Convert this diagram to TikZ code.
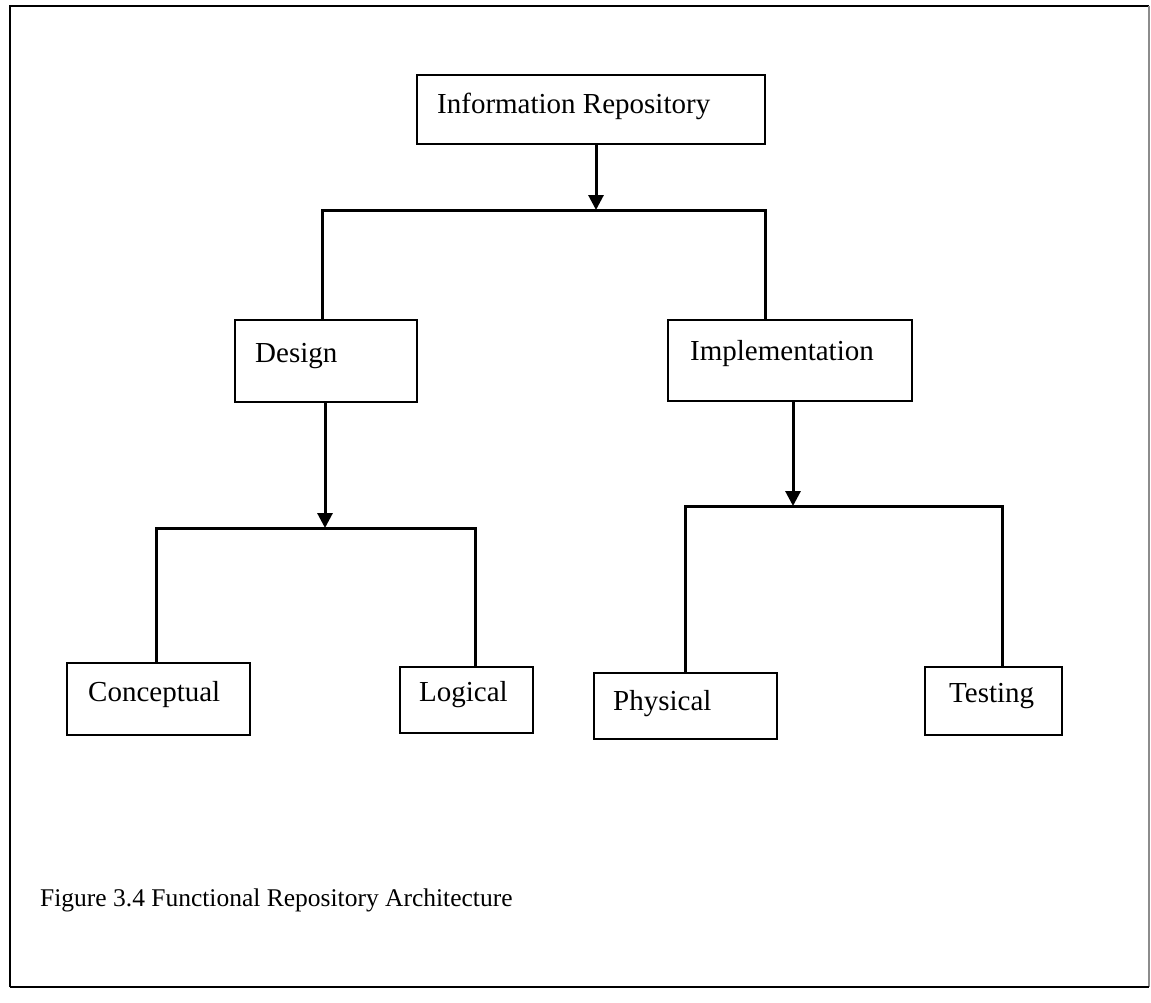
\documentclass[tikz,border=0pt]{standalone}
\usepackage{fontspec}
\setmainfont{Liberation Serif}
\usetikzlibrary{arrows.meta}
\begin{document}
\begin{tikzpicture}[x=1pt,y=-1pt,
  box/.style={draw, line width=2.6pt, rectangle, inner sep=0pt},
  lbl/.style={anchor=base west, inner sep=0pt, font=\fontsize{29}{34}\selectfont},
  wire/.style={line width=3pt},
  arr/.style={wire, -{Triangle[length=15pt,width=15pt]}}]
\useasboundingbox (0,0) rectangle (1151,1002);
% outer frame
\draw[line width=2.8pt] (10,987) -- (10,6) -- (1149,6);
\draw[line width=1.6pt, black!45] (1149,6) -- (1149,987);
\draw[line width=2.4pt] (10,987) -- (1149,987);

% boxes
\node[box, minimum width=348pt, minimum height=69pt] (ir) at (591,109.5) {};
\node[box, minimum width=182pt, minimum height=82pt] (design) at (326,361) {};
\node[box, minimum width=244pt, minimum height=81pt] (impl) at (790,360.5) {};
\node[box, minimum width=183pt, minimum height=72pt] (concept) at (158.5,699) {};
\node[box, minimum width=133pt, minimum height=66pt] (logical) at (466.5,700) {};
\node[box, minimum width=183pt, minimum height=66pt] (physical) at (685.5,706) {};
\node[box, minimum width=137pt, minimum height=68pt] (testing) at (993.5,701) {};

% labels
\node[lbl] (tir) at (437,113) {Information Repository};
\node[lbl] (tdesign) at (255,362) {Design};
\node[lbl] (timpl) at (690,360) {Implementation};
\node[lbl] (tconcept) at (88,701) {Conceptual};
\node[lbl] (tlogical) at (419,701) {Logical};
\node[lbl] (tphysical) at (613,710) {Physical};
\node[lbl] (ttesting) at (949,702) {Testing};
\node[anchor=base west, inner sep=0pt, font=\fontsize{25.5}{30}\selectfont] (caption) at (40,906)
  {Figure 3.4 Functional Repository Architecture};

% bus junctions
\coordinate (j1) at (596,210);
\coordinate (b1l) at (322,210);
\coordinate (b1r) at (765,210);
\coordinate (j2) at (325,528);
\coordinate (b2l) at (156,528);
\coordinate (b2r) at (475,528);
\coordinate (j3) at (793,506);
\coordinate (b3l) at (685,506);
\coordinate (b3r) at (1002,506);

% top level
\draw[arr] (ir.south -| j1) -- (j1);
\draw[wire] (design.north -| b1l) -- (b1l) -- (b1r) -- (impl.north -| b1r);

% design branch
\draw[arr] (design.south -| j2) -- (j2);
\draw[wire] (concept.north -| b2l) -- (b2l) -- (b2r) -- (logical.north -| b2r);

% implementation branch
\draw[arr] (impl.south -| j3) -- (j3);
\draw[wire] (physical.north -| b3l) -- (b3l) -- (b3r) -- (testing.north -| b3r);
\end{tikzpicture}
\end{document}
